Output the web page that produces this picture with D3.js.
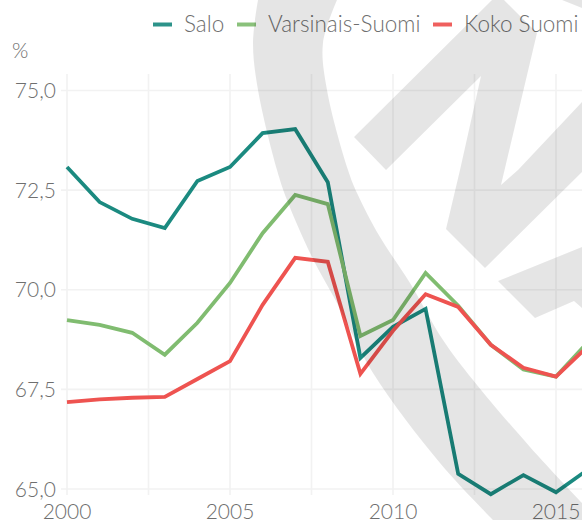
<!DOCTYPE html>
<html><head><meta charset="utf-8">
<script src="https://cdn.jsdelivr.net/npm/d3@7"></script>
<style>html,body{margin:0;padding:0;background:#fff;overflow:hidden}
text{font-family:Lato,sans-serif;font-weight:300;fill:#6f6f6f;font-size:21px}
text.leg{font-size:22.5px}</style>
</head><body><svg id="c" width="582" height="520"></svg>
<script>
const years = d3.range(2000, 2017);
const salo = [73.08,72.2,71.78,71.55,72.73,73.08,73.93,74.03,72.7,68.29,69.07,69.52,65.38,64.87,65.35,64.92,65.5];
const varsinais = [69.24,69.12,68.92,68.37,69.17,70.17,71.42,72.38,72.15,68.84,69.24,70.42,69.6,68.62,68.0,67.82,68.7];
const koko = [67.18,67.25,67.29,67.31,67.76,68.21,69.62,70.8,70.7,67.89,68.97,69.89,69.57,68.62,68.04,67.82,68.6];
const seriesNames = ["Salo","Varsinais-Suomi","Koko Suomi"];
const seriesColors = ["#1b8a80","#80bc70","#ee5350"];
const yTicks = [65,67.5,70,72.5,75];
const xGrid = [2000,2002.5,2005,2007.5,2010,2012.5,2015];
const xLabels = [2000,2005,2010,2015];
const wmLeft = [[258,0],[253,43],[258,90],[277,170],[287,200],[312,257],[337,303],[373,373],[440,463],[493,520]];
const wmRight = [[582,503],[530,447],[473,380],[443,340],[410,283],[380,237],[357,193],[348,170],[327,90],[323,43],[337,0]];
const wm2 = [[354,137],[386,170],[481,76],[460,170],[446,229],[485,268],[582,172],[582,102],[518,170],[501,185],[537,33],[504,0],[492,0]];
const wm3 = [[498,281],[582,247],[582,308],[574,301],[535,318]];
const wm4 = [[562,0],[582,0],[582,8]];

const svg = d3.select("#c");
const x = d3.scaleLinear().domain([2000,2015]).range([67,556]);
const y = d3.scaleLinear().domain([65,75]).range([489,90.5]);
const fmt = v => v.toFixed(1).replace(".",",");

svg.append("g").selectAll("line").data(xGrid).join("line")
  .attr("x1",d=>x(d)).attr("x2",d=>x(d)).attr("y1",74).attr("y2",495)
  .attr("stroke","#f2f2f2").attr("stroke-width",1.6);
svg.append("g").selectAll("line").data(yTicks).join("line")
  .attr("x1",61).attr("x2",582).attr("y1",d=>y(d)).attr("y2",d=>y(d))
  .attr("stroke","#f2f2f2").attr("stroke-width",1.6);

svg.append("g").selectAll("text").data(yTicks).join("text")
  .attr("x",56).attr("y",d=>y(d)+7.5).attr("text-anchor","end").text(fmt);
svg.append("g").selectAll("text").data(xLabels).join("text")
  .attr("x",d=>x(d)).attr("y",518.5).attr("text-anchor","middle").text(d=>d);
svg.append("text").attr("x",12).attr("y",58).text("%");

const line = d3.line().x((d,i)=>x(years[i])).y(d=>y(d));
[salo,varsinais,koko].forEach((s,i)=>{
  svg.append("path").attr("d",line(s)).attr("fill","none")
    .attr("stroke",seriesColors[i]).attr("stroke-width",3.8).attr("stroke-linejoin","miter");
});

const legendX = [153,237,433], textX = [184,268,464];
seriesNames.forEach((n,i)=>{
  svg.append("line").attr("x1",legendX[i]).attr("x2",legendX[i]+19).attr("y1",24.5).attr("y2",24.5)
    .attr("stroke",seriesColors[i]).attr("stroke-width",4).attr("stroke-opacity",0.92);
  svg.append("text").attr("class","leg").attr("x",textX[i]).attr("y",32).text(n);
});

const curve = d3.line().curve(d3.curveCatmullRom.alpha(0.5));
const poly = d3.line();
svg.append("path")
  .attr("d",curve(wmLeft)+"L582,520L"+curve(wmRight).slice(1)+"Z")
  .attr("fill","#000").attr("fill-opacity",0.1);
[wm2,wm3,wm4].forEach(p=>{
  svg.append("path").attr("d",poly(p)+"Z").attr("fill","#000").attr("fill-opacity",0.1);
});
</script></body></html>
